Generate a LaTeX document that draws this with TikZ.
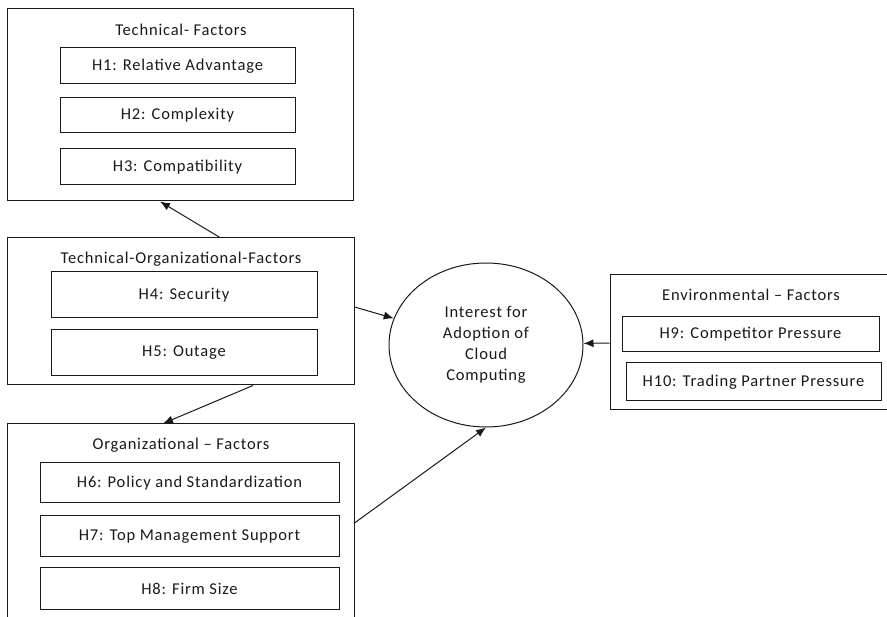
\documentclass[tikz,border=0pt]{standalone}
\usepackage{fontspec}
\setmainfont[LetterSpace=5]{Carlito}
\usetikzlibrary{arrows.meta,shapes.geometric}
\begin{document}
\begin{tikzpicture}[x=1pt,y=1pt,
  every node/.style={font=\fontsize{16.5}{21}\selectfont, text=black!90},
  outerbox/.style={draw=black!90, line width=1pt, inner sep=0pt},
  hypbox/.style={draw=black!90, line width=1pt, inner sep=0pt},
  title/.style={inner sep=0pt},
  arr/.style={draw=black!90, line width=1pt, -{Latex[length=10pt,width=8pt]}}]
\useasboundingbox (0,0) rectangle (887,-617);
\clip (0,0) rectangle (887,-617);
% Technical factors
\node[outerbox, minimum width=346, minimum height=192] (T) at (180,-105) {};
\node[title] (Tt) at (181,-30) {Technical- Factors};
\node[hypbox, minimum width=235, minimum height=36] (H1) at (177.5,-66) {H1: Relative Advantage};
\node[hypbox, minimum width=235, minimum height=35] (H2) at (177.5,-115.5) {H2: Complexity};
\node[hypbox, minimum width=235, minimum height=36] (H3) at (177.5,-167) {H3: Compatibility};
% Technical-Organizational factors
\node[outerbox, minimum width=347, minimum height=147] (TO) at (180.5,-311.5) {};
\node[title] (TOt) at (181,-259) {Technical-Organizational-Factors};
\node[hypbox, minimum width=266, minimum height=46] (H4) at (184,-295) {H4: Security};
\node[hypbox, minimum width=266, minimum height=46] (H5) at (184,-353) {H5: Outage};
% Organizational factors
\node[outerbox, minimum width=347, minimum height=226] (O) at (180.5,-537) {};
\node[title] (Ot) at (181,-445) {Organizational -- Factors};
\node[hypbox, minimum width=299, minimum height=40] (H6) at (189.5,-483) {H6: Policy and Standardization};
\node[hypbox, minimum width=299, minimum height=41] (H7) at (189.5,-536.5) {H7: Top Management Support};
\node[hypbox, minimum width=299, minimum height=41] (H8) at (189.5,-588.5) {H8: Firm Size};
% Central construct
\node[draw=black!90, line width=1pt, ellipse, inner sep=0pt, minimum width=194, minimum height=164, align=center] (C) at (486,-345) {Interest for\\Adoption of\\Cloud\\Computing};
% Environmental factors
\node[outerbox, minimum width=290, minimum height=135] (E) at (755,-342.5) {};
\node[title] (Et) at (751,-295) {Environmental -- Factors};
\node[hypbox, minimum width=257, minimum height=35] (H9) at (750.5,-334.5) {H9: Competitor Pressure};
\node[hypbox, minimum width=255, minimum height=38] (H10) at (753.5,-382) {H10: Trading Partner Pressure};
% Connectors
\draw[arr] (TO.north -| 220,0) -- (T.south -| 160,0);
\draw[arr] (TO.south -| 253,0) -- (O.north -| 163,0);
\draw[arr] (TO.east |- 0,-307) -- (C);
\draw[arr] (E.west |- 0,-343) -- (C);
\draw[arr] (O.east |- 0,-523) -- (C.south);
\end{tikzpicture}
\end{document}
